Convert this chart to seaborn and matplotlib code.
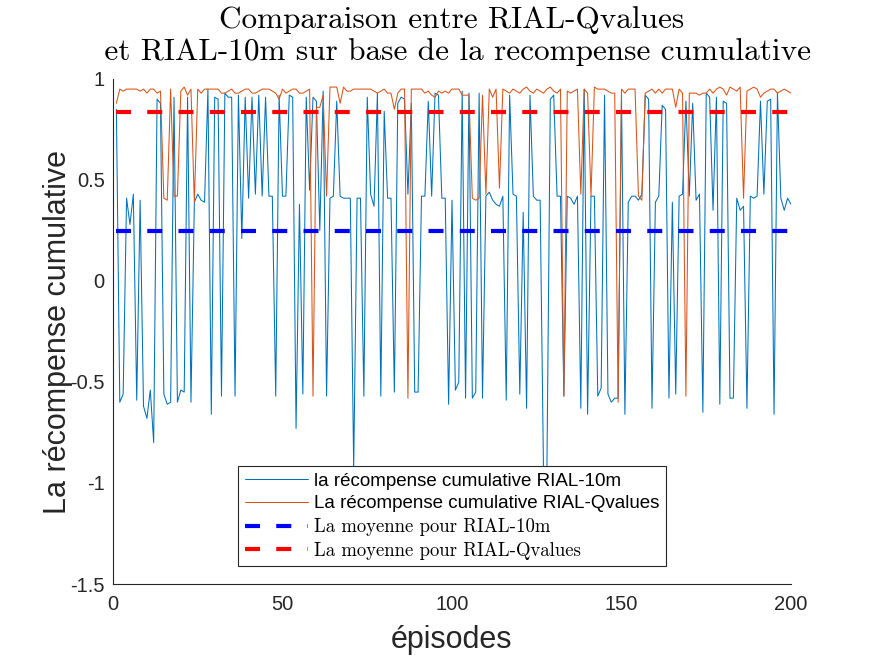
import numpy as np
import pandas as pd
import matplotlib
matplotlib.use("Agg")
import matplotlib.pyplot as plt
import seaborn as sns

# ---------------- data ----------------
episodes = list(range(1, 201))

reward_10m = [
    0.85, -0.60, -0.56, 0.41, 0.28, 0.43, -0.59, 0.40, -0.62, -0.68,
    -0.54, -0.80, 0.90, 0.88, -0.56, -0.61, -0.60, 0.91, -0.60, -0.54,
    -0.55, 0.91, -0.60, 0.39, 0.43, 0.40, 0.39, 0.95, -0.66, 0.91,
    0.90, -0.57, 0.93, 0.91, 0.91, -0.57, 0.92, 0.21, 0.91, 0.41,
    0.91, 0.43, 0.92, 0.42, 0.91, 0.42, 0.42, -0.57, 0.92, 0.42,
    0.42, 0.92, 0.91, -0.73, 0.38, -0.56, 0.91, 0.45, 0.91, 0.89,
    0.25, 0.94, -0.57, 0.41, 0.42, 0.89, 0.42, 0.41, 0.41, 0.41,
    -0.93, 0.41, 0.41, -0.57, 0.91, 0.43, 0.37, 0.93, -0.57, 0.84,
    0.41, 0.41, -0.55, 0.88, 0.91, 0.90, 0.43, 0.88, -0.55, -0.55,
    0.42, 0.42, 0.89, 0.42, 0.93, 0.92, 0.41, 0.41, -0.61, 0.40,
    -0.54, -0.50, 0.94, -0.58, 0.93, -0.58, -0.55, 0.93, -0.58, 0.42,
    0.44, 0.40, 0.38, 0.37, 0.42, -0.59, 0.92, 0.43, 0.42, -0.56,
    0.34, -0.63, 0.92, 0.42, 0.40, 0.40, -0.95, -0.93, 0.90, 0.92,
    0.42, 0.42, -0.57, 0.42, 0.41, 0.38, 0.42, -0.63, 0.95, -0.66,
    0.42, 0.42, -0.57, -0.53, 0.92, -0.56, -0.60, -0.58, -0.58, 0.92,
    -0.66, 0.39, 0.42, 0.42, 0.40, 0.43, 0.92, 0.90, -0.63, 0.39,
    0.42, 0.87, 0.85, -0.58, 0.39, -0.56, 0.42, 0.43, 0.89, 0.42,
    0.88, 0.40, 0.43, -0.65, 0.93, 0.91, 0.35, 0.91, -0.61, 0.89,
    0.88, -0.58, -0.58, 0.41, 0.35, 0.37, -0.63, 0.42, 0.41, 0.42,
    0.89, 0.43, 0.89, 0.90, -0.66, 0.93, 0.41, 0.35, 0.41, 0.38,
]

reward_qvalues = [
    0.88, 0.95, 0.94, 0.95, 0.95, 0.95, 0.95, 0.94, 0.95, 0.93,
    0.95, 0.95, 0.93, 0.94, 0.41, 0.40, 0.95, 0.42, 0.42, 0.94,
    0.96, 0.92, 0.95, 0.39, 0.95, 0.93, 0.95, 0.95, 0.95, 0.95,
    0.95, 0.93, 0.93, 0.94, 0.95, 0.93, 0.93, 0.94, 0.95, 0.95,
    0.93, 0.93, 0.94, 0.95, 0.95, 0.95, 0.94, 0.93, 0.90, 0.95,
    0.93, 0.94, 0.95, 0.95, 0.93, 0.93, 0.94, 0.95, -0.57, 0.86,
    0.86, 0.92, 0.42, 0.96, 0.96, 0.96, 0.88, 0.96, 0.94, 0.94,
    0.95, 0.95, 0.95, 0.95, 0.95, 0.95, 0.94, 0.93, 0.94, 0.95,
    0.93, 0.93, 0.85, 0.93, 0.95, 0.95, -0.58, 0.95, 0.95, 0.95,
    0.95, 0.93, 0.94, 0.92, 0.91, 0.94, 0.93, 0.94, 0.93, 0.95,
    0.95, 0.95, 0.92, 0.92, 0.92, 0.41, 0.40, 0.41, 0.92, 0.43,
    0.95, 0.91, 0.95, 0.46, 0.95, 0.94, 0.93, 0.95, 0.94, 0.93,
    0.95, 0.96, 0.94, 0.93, 0.95, 0.94, 0.93, 0.95, 0.96, 0.94,
    0.93, 0.95, -0.57, 0.94, 0.93, 0.94, 0.95, 0.43, 0.95, 0.93,
    0.42, 0.96, 0.95, 0.95, 0.95, 0.94, 0.93, 0.93, -0.60, 0.95,
    0.93, 0.95, 0.95, 0.95, 0.42, 0.40, 0.93, 0.94, 0.95, 0.93,
    0.95, 0.93, 0.95, 0.95, 0.95, 0.86, 0.95, 0.93, -0.57, 0.93,
    0.93, 0.93, 0.92, 0.93, 0.93, 0.95, 0.93, 0.95, 0.96, 0.95,
    0.92, 0.96, 0.95, 0.94, 0.96, 0.41, 0.94, 0.95, 0.96, 0.95,
    0.91, 0.93, 0.94, 0.95, 0.95, 0.93, 0.94, 0.95, 0.94, 0.93,
]

mean_10m = 0.248
mean_qvalues = 0.837

labels = [
    "la récompense cumulative RIAL-10m",
    "La récompense cumulative RIAL-Qvalues",
    "La moyenne pour RIAL-10m",
    "La moyenne pour RIAL-Qvalues",
]
title_text = "Comparaison entre RIAL-Qvalues\n et RIAL-10m sur base de la recompense cumulative"
xlabel_text = "épisodes"
ylabel_text = "La récompense cumulative"
xticks = [0, 50, 100, 150, 200]
yticks = [-1.5, -1, -0.5, 0, 0.5, 1]
ytick_labels = ["-1.5", "-1", "-0.5", "0", "0.5", "1"]

# ---------------- style ----------------
sns.set_style("white")
plt.rcParams["font.family"] = ["Liberation Sans", "DejaVu Sans"]

C_BLUE = "#0072BD"
C_ORANGE = "#D95319"
TXT = "#262626"

fig = plt.figure(figsize=(8.75, 6.56), dpi=100)
ax = fig.add_axes([113 / 875, 1 - 584 / 656, (791 - 113) / 875, (584 - 79) / 656])

df_10m = pd.DataFrame({"episode": episodes, "value": reward_10m})
df_qv = pd.DataFrame({"episode": episodes, "value": reward_qvalues})
df_m10 = pd.DataFrame({"episode": [episodes[0], episodes[-1]], "value": [mean_10m, mean_10m]})
df_mqv = pd.DataFrame({"episode": [episodes[0], episodes[-1]], "value": [mean_qvalues, mean_qvalues]})

sns.lineplot(data=df_10m, x="episode", y="value", color=C_BLUE, linewidth=0.75, ax=ax)
sns.lineplot(data=df_qv, x="episode", y="value", color=C_ORANGE, linewidth=0.75, ax=ax)
sns.lineplot(data=df_m10, x="episode", y="value", color="blue", linewidth=3.0, ax=ax)
sns.lineplot(data=df_mqv, x="episode", y="value", color="red", linewidth=3.0, ax=ax)

for ln in ax.lines[2:4]:
    ln.set_linestyle((0, (3.6, 3.9)))
    ln.set_dash_capstyle("butt")

ax.set_xlim(0, 200)
ax.set_ylim(-1.5, 1)
ax.set_xticks(xticks)
ax.set_xticklabels([str(t) for t in xticks])
ax.set_yticks(yticks)
ax.set_yticklabels(ytick_labels)

for side in ["top", "right"]:
    ax.spines[side].set_visible(False)
for side in ["left", "bottom"]:
    ax.spines[side].set_color(TXT)
    ax.spines[side].set_linewidth(0.8)

ax.tick_params(axis="both", direction="in", length=4, width=0.8, colors=TXT,
               labelsize=14.5, labelcolor=TXT)
ax.tick_params(axis="x", pad=8)
ax.tick_params(axis="y", pad=6)

ax.set_xlabel(xlabel_text, fontsize=22, color=TXT, labelpad=8)
ax.set_ylabel(ylabel_text, fontsize=22, color=TXT, labelpad=-2)
ax.set_title(title_text, fontsize=22.5, family="cmr10", color="black",
             linespacing=1.15, pad=14)

leg = ax.legend(ax.lines[:4], labels, loc="upper left",
                bbox_to_anchor=((238 - 113) / 678, (584 - 466) / 505),
                borderaxespad=0, fontsize=13.5, frameon=True, fancybox=False,
                framealpha=1, edgecolor=TXT, handlelength=3.4,
                handletextpad=0.3, labelspacing=0.3, borderpad=0.35)
leg.get_frame().set_linewidth(0.8)
for i, t in enumerate(leg.get_texts()):
    t.set_color("black")
    if i >= 2:
        t.set_fontfamily("cmr10")

fig.savefig("out.png", dpi=100, facecolor="white")
